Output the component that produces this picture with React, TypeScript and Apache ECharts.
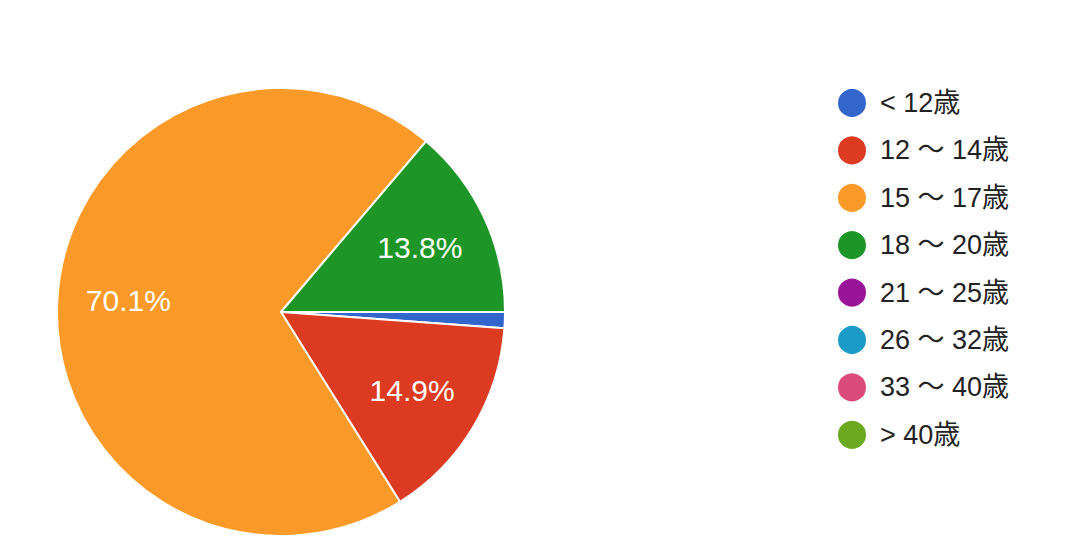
import React, { useEffect, useRef } from "react";
import * as echarts from "echarts";

const categories = ["< 12歳", "12 ～ 14歳", "15 ～ 17歳", "18 ～ 20歳", "21 ～ 25歳", "26 ～ 32歳", "33 ～ 40歳", "> 40歳"];
const counts = [1, 13, 61, 12, 0, 0, 0, 0];
const colors = ["#3366cc", "#dc3b22", "#fb9a28", "#1e9627", "#991499", "#1a9bc7", "#dc4a7c", "#6aa820"];

export default function App() {
  const ref = useRef<HTMLDivElement>(null);
  useEffect(() => {
    document.body.style.margin = "0";
    const chart = echarts.init(ref.current!, null, { renderer: "svg" });
    const data = categories.map((name, i) => ({ name, value: counts[i] }));
    const font = "Arial, 'Liberation Sans', 'Noto Sans CJK JP', sans-serif";
    chart.setOption({
      animation: false,
      color: colors,
      legend: {
        orient: "vertical",
        left: 836,
        top: 87,
        padding: 0,
        icon: "circle",
        itemWidth: 30,
        itemHeight: 30,
        itemGap: 15.4,
        data: categories,
        selectedMode: false,
        textStyle: { fontSize: 27, lineHeight: 30, color: "#222", fontFamily: font, padding: [0, 0, 0, 8] },
      },
      series: [
        {
          type: "pie",
          center: [281, 312],
          radius: [0, 224],
          startAngle: 0,
          clockwise: true,
          avoidLabelOverlap: false,
          silent: true,
          data,
          itemStyle: { borderColor: "#fff", borderWidth: 2 },
          label: { show: false },
          labelLine: { show: false },
        },
        {
          type: "pie",
          center: [281, 312],
          radius: [0, 300],
          startAngle: 0,
          clockwise: true,
          avoidLabelOverlap: false,
          silent: true,
          percentPrecision: 1,
          data,
          itemStyle: { color: "transparent", borderWidth: 0 },
          label: {
            show: true,
            position: "inside",
            color: "#fff",
            fontSize: 30,
            fontFamily: font,
            formatter: (p: any) => (p.percent < 5 ? "" : p.percent.toFixed(1) + "%"),
          },
          labelLine: { show: false },
        },
      ],
    });
    return () => chart.dispose();
  }, []);
  return <div ref={ref} style={{ width: 1090, height: 556 }} />;
}
